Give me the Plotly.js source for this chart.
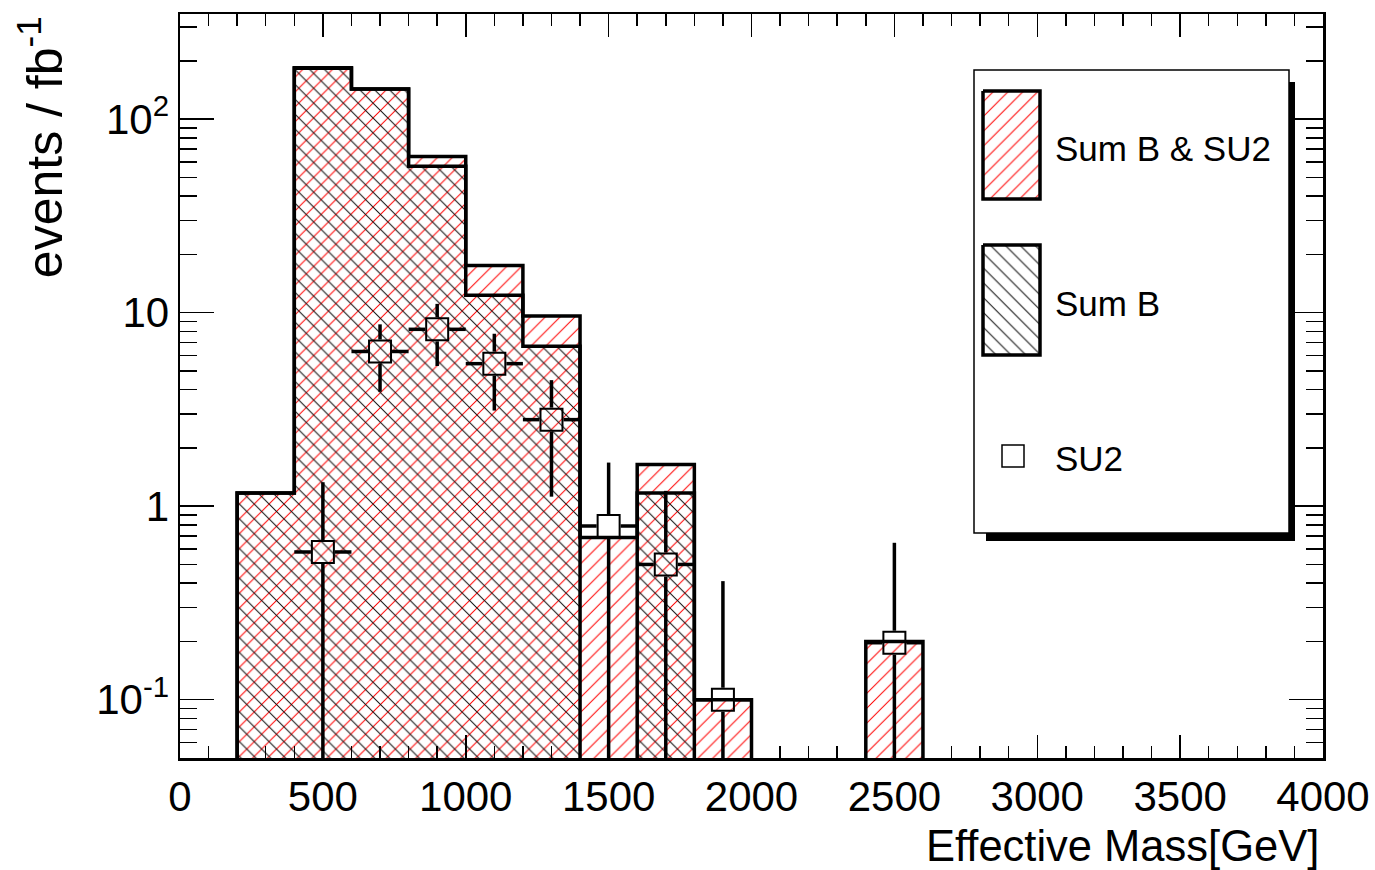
<!DOCTYPE html>
<html>
<head>
<meta charset="utf-8">
<script src="https://cdn.plot.ly/plotly-3.0.1.min.js"></script>
<style>
  html, body { margin: 0; padding: 0; background: #ffffff; }
  #chart { width: 1375px; height: 870px; }
</style>
</head>
<body>
<div id="chart"></div>
<script>
// ---- Histogram data -------------------------------------------------------
// Lower edges of the effective-mass bins (GeV) and the common bin width
const binLow = [200, 400, 600, 800, 1000, 1200, 1400, 1600, 1800, 2000, 2200, 2400];
const binWidth = 200;

// Background plus SU2 signal, events / fb^-1 per bin
const sumBandSU2 = [1.17, 184, 143, 64, 17.5, 9.6, 0.69, 1.64, 0.10, 0, 0, 0.20];

// Background only, events / fb^-1 per bin
const sumB = [1.17, 183, 143, 57, 12.3, 6.7, 0, 1.17, 0, 0, 0, 0];

// SU2 signal points (bin centres) with their statistical errors
const su2X = [500, 700, 900, 1100, 1300, 1500, 1700, 1900, 2500];
const su2Y = [0.58, 6.3, 8.2, 5.45, 2.8, 0.79, 0.50, 0.10, 0.197];
const su2Err = [0.75, 2.4, 2.9, 2.33, 1.68, 0.89, 0.70, 0.31, 0.45];

// Axis ticks
const xTickVals = [0, 500, 1000, 1500, 2000, 2500, 3000, 3500, 4000];
const yTickVals = [0.1, 1, 10, 100];
const yTickText = ['10<sup>-1</sup>', '1', '10', '10<sup>2</sup>'];

// ---- Geometry --------------------------------------------------------------
const W = 1375, H = 870;
const M = { l: 180, r: 52, t: 14, b: 112 };
const plotW = W - M.l - M.r, plotH = H - M.t - M.b;
const X_RANGE = [0, 4000];
const Y_RANGE = [Math.log10(0.05), 2.543];
const FLOOR = 1e-4;               // stands in for empty bins on the log axis
const FONT = 'Liberation Sans, Arial, Helvetica, sans-serif';
const RED = '#ff0000';
const HATCH_RED = { shape: '/', fgcolor: RED, bgcolor: 'rgba(0,0,0,0)', size: 10.5, solidity: 0.095 };
const HATCH_BLK = { shape: '\\', fgcolor: '#111111', bgcolor: 'rgba(0,0,0,0)', size: 10.5, solidity: 0.1 };

// Minor ticks at 2..9 x each decade
const yMinor = [];
for (let d = -2; d <= 2; d++) for (let k = 2; k <= 9; k++) yMinor.push(k * Math.pow(10, d));

// Step outline (ROOT-style histogram contour) from the bin contents
function stepLine(vals) {
  const xs = [X_RANGE[0]], ys = [FLOOR];
  binLow.forEach((lo, i) => { xs.push(lo); ys.push(vals[i] > 0 ? vals[i] : FLOOR); });
  xs.push(binLow[binLow.length - 1] + binWidth); ys.push(FLOOR);
  xs.push(X_RANGE[1]); ys.push(FLOOR);
  return { xs, ys };
}
const binCentres = binLow.map(lo => lo + binWidth / 2);
const sigStep = stepLine(sumBandSU2);
const bkgStep = stepLine(sumB);

// Error bars drawn outside the open marker
const MARK = 22, HALF = 12;
const gapX = HALF / (plotW / (X_RANGE[1] - X_RANGE[0]));
const gapF = Math.pow(10, HALF / (plotH / (Y_RANGE[1] - Y_RANGE[0])));
const ex = [], ey = [];
su2X.forEach((x, i) => {
  const y = su2Y[i], e = su2Err[i];
  const lo = y - e > 0 ? y - e : FLOOR;
  ex.push(x, x, null, x, x, null, x - binWidth / 2, x - gapX, null, x + gapX, x + binWidth / 2, null);
  ey.push(y * gapF, y + e, null, y / gapF, lo, null, y, y, null, y, y, null);
});

const traces = [
  { type: 'bar', x: binCentres, y: sumBandSU2, width: binWidth, name: 'Sum B & SU2',
    marker: { color: 'rgba(0,0,0,0)', line: { width: 0 }, pattern: HATCH_RED },
    hoverinfo: 'x+y', showlegend: false },
  { type: 'bar', x: binCentres, y: sumB, width: binWidth, name: 'Sum B',
    marker: { color: 'rgba(0,0,0,0)', line: { width: 0 }, pattern: HATCH_BLK },
    hoverinfo: 'x+y', showlegend: false },
  { type: 'scatter', mode: 'lines', x: sigStep.xs, y: sigStep.ys,
    line: { shape: 'hv', color: '#000', width: 3.5 }, hoverinfo: 'skip', showlegend: false },
  { type: 'scatter', mode: 'lines', x: bkgStep.xs, y: bkgStep.ys,
    line: { shape: 'hv', color: '#000', width: 3.5 }, hoverinfo: 'skip', showlegend: false },
  { type: 'scatter', mode: 'lines', x: ex, y: ey, connectgaps: false,
    line: { color: '#000', width: 3.5 }, hoverinfo: 'skip', showlegend: false },
  { type: 'scatter', mode: 'markers', x: su2X, y: su2Y, name: 'SU2',
    marker: { symbol: 'square-open', size: MARK, color: '#000', line: { width: 2, color: '#000' } },
    showlegend: false },

  // Legend swatches, drawn on a hidden pixel-space overlay
  { type: 'scatter', xaxis: 'x2', yaxis: 'y2', mode: 'lines', fill: 'toself',
    x: [983, 1040, 1040, 983, 983], y: [91, 91, 199, 199, 91],
    fillcolor: 'rgba(0,0,0,0)', fillpattern: HATCH_RED,
    line: { color: '#000', width: 3.5 }, hoverinfo: 'skip', showlegend: false },
  { type: 'scatter', xaxis: 'x2', yaxis: 'y2', mode: 'lines', fill: 'toself',
    x: [983, 1040, 1040, 983, 983], y: [245, 245, 355, 355, 245],
    fillcolor: 'rgba(0,0,0,0)', fillpattern: HATCH_BLK,
    line: { color: '#000', width: 3.5 }, hoverinfo: 'skip', showlegend: false },
  { type: 'scatter', xaxis: 'x2', yaxis: 'y2', mode: 'markers', x: [1013], y: [456],
    marker: { symbol: 'square-open', size: 22, color: '#000', line: { width: 1.5 } },
    hoverinfo: 'skip', showlegend: false }
];

const layout = {
  width: W, height: H,
  margin: M,
  paper_bgcolor: '#ffffff',
  plot_bgcolor: 'rgba(0,0,0,0)',
  barmode: 'overlay',
  bargap: 0,
  showlegend: false,
  font: { family: FONT, color: '#000', size: 42 },
  xaxis: {
    range: X_RANGE, tickmode: 'array', tickvals: xTickVals,
    ticks: 'inside', ticklen: 23, tickwidth: 1.5, tickcolor: '#000',
    minor: { dtick: 100, tick0: 0, ticks: 'inside', ticklen: 12, tickwidth: 1.5, tickcolor: '#000' },
    showline: true, linewidth: 2.5, linecolor: '#000', mirror: 'ticks',
    showgrid: false, zeroline: false,
    tickfont: { family: FONT, size: 42, color: '#000' }
  },
  yaxis: {
    type: 'log', range: Y_RANGE, tickmode: 'array', tickvals: yTickVals, ticktext: yTickText,
    ticks: 'inside', ticklen: 34, tickwidth: 1.5, tickcolor: '#000',
    minor: { tickmode: 'array', tickvals: yMinor, ticks: 'inside', ticklen: 17, tickwidth: 1.5, tickcolor: '#000' },
    showline: true, linewidth: 2.5, linecolor: '#000', mirror: 'ticks',
    showgrid: false, zeroline: false,
    tickfont: { family: FONT, size: 42, color: '#000' }
  },
  xaxis2: { domain: [0, 1], anchor: 'y2', range: [M.l, W - M.r], visible: false, fixedrange: true },
  yaxis2: { domain: [0, 1], anchor: 'x2', range: [H - M.b, M.t], visible: false, fixedrange: true },
  shapes: [
    // legend shadow and frame
    { type: 'rect', xref: 'x2', yref: 'y2', x0: 986, x1: 1295, y0: 82, y1: 541,
      fillcolor: '#000', line: { width: 0 }, layer: 'below' },
    { type: 'rect', xref: 'x2', yref: 'y2', x0: 974, x1: 1289, y0: 70, y1: 533,
      fillcolor: '#fff', line: { color: '#000', width: 1.5 }, layer: 'below' }
  ],
  annotations: [
    { xref: 'x2', yref: 'y2', x: 1053, y: 148, xanchor: 'left', yanchor: 'middle', showarrow: false,
      text: 'Sum B &amp; SU2', font: { family: FONT, size: 35, color: '#000' } },
    { xref: 'x2', yref: 'y2', x: 1053, y: 303, xanchor: 'left', yanchor: 'middle', showarrow: false,
      text: 'Sum B', font: { family: FONT, size: 35, color: '#000' } },
    { xref: 'x2', yref: 'y2', x: 1053, y: 458, xanchor: 'left', yanchor: 'middle', showarrow: false,
      text: 'SU2', font: { family: FONT, size: 35, color: '#000' } },
    // axis titles, ROOT-style (flush with the axis end)
    { xref: 'paper', yref: 'paper', x: 1, y: -0.118, xanchor: 'right', yanchor: 'middle', showarrow: false,
      xshift: -2, text: 'Effective Mass[GeV]', font: { family: FONT, size: 43.5, color: '#000' } },
    { xref: 'paper', yref: 'paper', x: -0.118, y: 1.0, xanchor: 'center', yanchor: 'top', showarrow: false,
      textangle: -90, xshift: -4, text: 'events / fb<sup>-1</sup>', font: { family: FONT, size: 50, color: '#000' } }
  ]
};

Plotly.newPlot('chart', traces, layout, { displayModeBar: false, staticPlot: true });
</script>
</body>
</html>
